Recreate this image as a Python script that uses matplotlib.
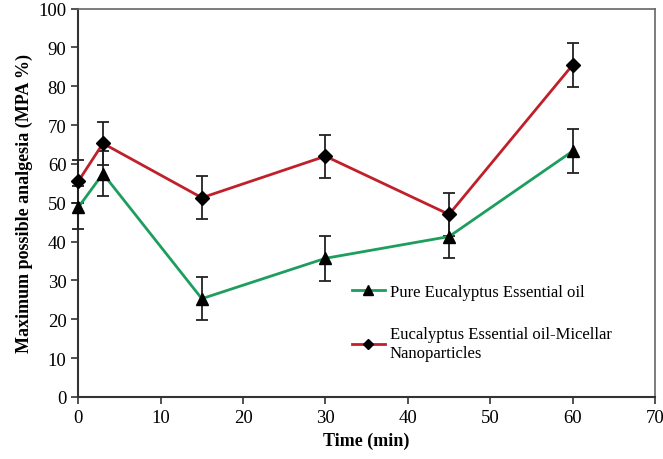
import matplotlib
matplotlib.use("Agg")
import matplotlib.pyplot as plt
from matplotlib.lines import Line2D

time = [0, 3, 15, 30, 45, 60]
pure = [48.8, 57.5, 25.3, 35.7, 41.3, 63.3]
pure_err = [5.5, 5.8, 5.6, 5.8, 5.6, 5.7]
micellar = [55.5, 65.3, 51.3, 62.0, 47.0, 85.5]
micellar_err = [5.5, 5.6, 5.6, 5.5, 5.5, 5.7]
xticks = [0, 10, 20, 30, 40, 50, 60, 70]
yticks = [0, 10, 20, 30, 40, 50, 60, 70, 80, 90, 100]
labels = ['Pure Eucalyptus Essential oil',
          'Eucalyptus Essential oil-Micellar\nNanoparticles']

plt.rcParams['font.family'] = ['Liberation Serif', 'DejaVu Serif']

fig = plt.figure(figsize=(6.63, 4.60), dpi=100)
ax = fig.add_axes([0.118, 0.135, 0.870, 0.844])

green = '#1e9e5e'
red = '#c0202a'
ax.errorbar(time, pure, yerr=pure_err, color=green, lw=2, marker='^', ms=9,
            mfc='black', mec='black', ecolor='#222222', elinewidth=1.3, capsize=4,
            capthick=1.3, zorder=3, clip_on=False)
ax.errorbar(time, micellar, yerr=micellar_err, color=red, lw=2, marker='D', ms=7,
            mfc='black', mec='black', ecolor='#222222', elinewidth=1.3, capsize=4,
            capthick=1.3, zorder=3, clip_on=False)

ax.set_xlim(0, 70)
ax.set_ylim(0, 100)
ax.set_xticks(xticks)
ax.set_yticks(yticks)
ax.tick_params(labelsize=13.5, direction='out', length=5, width=1.2, color='#333333')
for s in ['left', 'bottom']:
    ax.spines[s].set_color('#333333')
    ax.spines[s].set_linewidth(1.5)
for s in ['top', 'right']:
    ax.spines[s].set_color('#666666')
    ax.spines[s].set_linewidth(1.2)

ax.set_xlabel('Time (min)', fontsize=13, fontweight='bold')
ax.set_ylabel('Maximum possible analgesia (MPA %)', fontsize=13, fontweight='bold')

handles = [Line2D([], [], color=green, lw=2, marker='^', ms=7, mfc='black', mec='black'),
           Line2D([], [], color=red, lw=2, marker='D', ms=5, mfc='black', mec='black')]
ax.legend(handles, labels, loc='upper left', bbox_to_anchor=(0.448, 0.33), frameon=False,
          fontsize=12, handlelength=2.0, labelspacing=1.6, handletextpad=0.3)

fig.savefig('out.png', dpi=100)
